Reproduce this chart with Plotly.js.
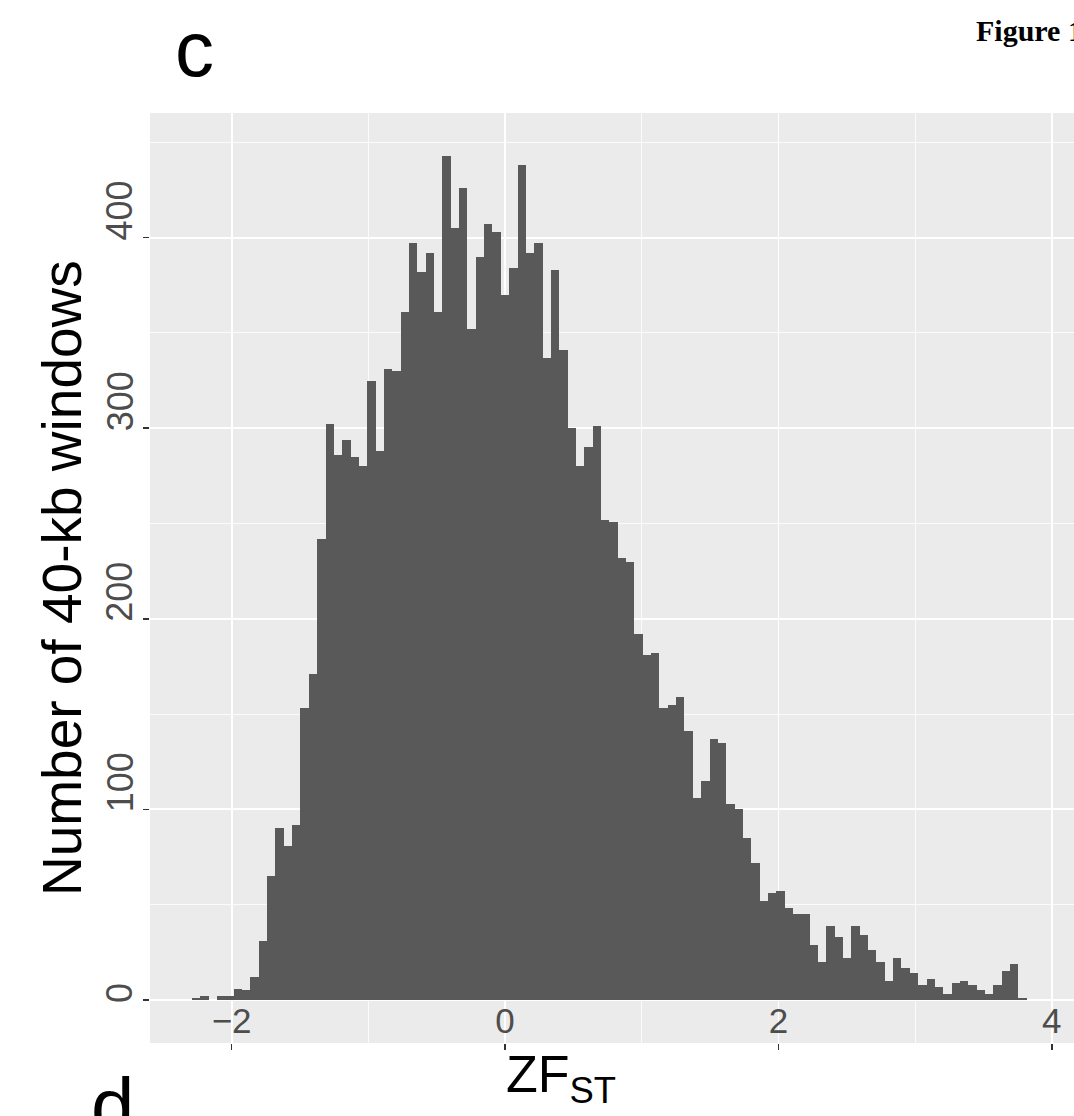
<!DOCTYPE html>
<html>
<head>
<meta charset="utf-8">
<script src="https://cdn.plot.ly/plotly-3.0.1.min.js"></script>
<style>
html, body { margin: 0; padding: 0; background: #ffffff; }
#chart { width: 1074px; height: 1116px; }
</style>
</head>
<body>
<div id="chart"></div>
<script>
// Histogram of ZF_ST: counts of 40-kb windows in 100 equal bins
const counts = [
  1, 2, 0, 2, 2, 6, 5, 12, 31, 65,
  90, 81, 92, 153, 171, 242, 302, 286, 294, 285,
  280, 325, 288, 331, 330, 361, 397, 382, 392, 361,
  443, 405, 426, 352, 390, 407, 403, 370, 384, 438,
  392, 397, 337, 383, 341, 300, 280, 290, 301, 252,
  251, 232, 230, 192, 181, 182, 153, 155, 159, 141,
  106, 115, 137, 135, 103, 100, 85, 72, 52, 56,
  57, 48, 45, 45, 29, 20, 39, 33, 22, 39,
  34, 26, 20, 10, 22, 17, 14, 8, 11, 7,
  3, 9, 10, 8, 5, 3, 8, 15, 19, 1
];
const firstBinCenter = -2.2595;
const binWidth = 0.06106;

const xTickValues = [-2, 0, 2, 4];
const xTickLabels = ['\u22122', '0', '2', '4'];
const xMinorValues = [-1, 1, 3];
const yTickValues = [0, 100, 200, 300, 400];
const yTickLabels = ['0', '100', '200', '300', '400'];
const yMinorValues = [50, 150, 250, 350, 450];

const trace = {
  type: 'bar',
  y: counts,
  x0: firstBinCenter,
  dx: binWidth,
  width: binWidth,
  marker: { color: '#595959', line: { width: 0 } },
  hoverinfo: 'skip'
};

const sans = 'Liberation Sans, Arial, Helvetica, sans-serif';

// y tick labels: rotated, starting at their tick (as in the reference)
const yLabelAnnotations = yTickValues.map((v, i) => ({
  text: yTickLabels[i],
  textangle: -90,
  xref: 'paper', yref: 'y',
  x: -0.0325, y: v,
  xanchor: 'center', yanchor: 'bottom',
  yshift: -4,
  showarrow: false,
  borderpad: 0,
  font: { size: 36, color: '#4D4D4D', family: sans }
}));

const layout = {
  width: 1074,
  height: 1116,
  paper_bgcolor: '#ffffff',
  plot_bgcolor: '#EBEBEB',
  margin: { l: 150, r: 0, t: 113, b: 73, pad: 0 },
  bargap: 0,
  showlegend: false,
  font: { family: sans, color: '#4D4D4D' },
  xaxis: {
    range: [-2.597, 4.162],
    tickmode: 'array',
    tickvals: xTickValues,
    ticktext: xTickLabels,
    ticks: 'outside',
    ticklen: 6,
    tickwidth: 1.5,
    tickcolor: '#333333',
    ticklabelposition: 'inside',
    tickfont: { size: 35, color: '#4D4D4D', family: sans },
    showgrid: true,
    gridcolor: '#ffffff',
    gridwidth: 1.8,
    minor: { tickvals: xMinorValues, showgrid: true, gridcolor: '#ffffff', gridwidth: 0.8, ticks: '' },
    zeroline: false,
    showline: false
  },
  yaxis: {
    range: [-22.6, 465.4],
    tickmode: 'array',
    tickvals: yTickValues,
    ticktext: yTickLabels,
    showticklabels: false,
    ticks: 'outside',
    ticklen: 6,
    tickwidth: 1.5,
    tickcolor: '#333333',
    showgrid: true,
    gridcolor: '#ffffff',
    gridwidth: 1.8,
    minor: { tickvals: yMinorValues, showgrid: true, gridcolor: '#ffffff', gridwidth: 0.8, ticks: '' },
    zeroline: false,
    showline: false
  },
  annotations: yLabelAnnotations.concat([
    {
      text: 'Number of 40-kb windows',
      textangle: -90,
      xref: 'paper', yref: 'paper',
      x: -0.0952, y: 0.5,
      xanchor: 'center', yanchor: 'middle',
      showarrow: false,
      font: { size: 55, color: '#000000', family: sans }
    },
    {
      text: 'ZF<sub>ST</sub>',
      xref: 'paper', yref: 'paper',
      x: 0.4448, y: 0.0,
      xanchor: 'center', yanchor: 'top',
      showarrow: false,
      font: { size: 52, color: '#000000', family: sans }
    },
    {
      text: 'c',
      xref: 'paper', yref: 'paper',
      x: 0.025, y: 1.069,
      xanchor: 'left', yanchor: 'middle',
      showarrow: false,
      font: { size: 78, color: '#000000', family: sans }
    },
    {
      text: 'd',
      xref: 'paper', yref: 'paper',
      x: -0.066, y: -0.0677,
      xanchor: 'left', yanchor: 'middle',
      showarrow: false,
      font: { size: 78, color: '#000000', family: sans }
    },
    {
      text: '<b>Figure 1</b>',
      xref: 'paper', yref: 'paper',
      x: 0.892, y: 1.089,
      xanchor: 'left', yanchor: 'middle',
      showarrow: false,
      font: { size: 30, color: '#000000', family: 'Liberation Serif, Times New Roman, serif' }
    }
  ])
};

Plotly.newPlot('chart', [trace], layout, { displayModeBar: false, staticPlot: true });
</script>
</body>
</html>
